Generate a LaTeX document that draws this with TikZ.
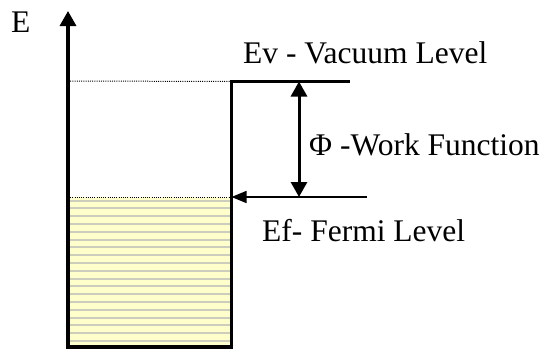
\documentclass[tikz,border=0pt]{standalone}
\usepackage{fontspec}
\setmainfont{Liberation Serif}
\usetikzlibrary{arrows.meta}
\definecolor{fillyel}{RGB}{255,255,204}
\definecolor{stripegray}{RGB}{205,205,190}
\begin{document}
\begin{tikzpicture}[x=1pt,y=-1pt,
  lbl/.style={anchor=base west,inner sep=0pt,font=\fontsize{31.5}{38}\selectfont},
  thick line/.style={line width=3.2pt},
  dotline/.style={line width=1pt,black,dash pattern=on 1pt off 1.2pt},
  stripe/.style={line width=2pt,color=stripegray}]
\useasboundingbox (0,0) rectangle (542,349);
% coordinates
\coordinate (axb) at (68,347);
\coordinate (axt) at (68,11);
\coordinate (wbl) at (66.4,347);
\coordinate (wbr) at (231.5,347);
\coordinate (wtr) at (231.5,81.5);
\coordinate (vac) at (350,81.5);
\coordinate (fl) at (68,197);
\coordinate (fr) at (231.5,197);
\coordinate (vl) at (68,81);
\coordinate (phit) at (299,81.5);
\coordinate (phib) at (299,197);
\coordinate (fs) at (367,197);
% fill
\fill[fillyel] (68,197) rectangle (231.5,347);
\foreach \y in {200.5,208.3,...,346} {\draw[stripe] (69.5,\y) -- (230,\y);}
% dotted levels
\draw[dotline] (vl) -- (wtr);
\draw[dotline] (fl) -- (fr);
% axis
\draw[thick line,-{Triangle[length=15pt,width=16pt]}] (axb) -- (axt);
% well
\draw[thick line,line join=miter] (wbl) -- (wbr) -- (wtr) -- (vac);
% work function arrow
\draw[line width=3pt,{Triangle[length=15pt,width=16pt]}-{Triangle[length=15pt,width=16pt]}] (phit) -- (phib);
% fermi arrow
\draw[line width=1.5pt,-{Triangle[length=15pt,width=12pt]}] (fs) -- (fr);
% labels
\node[lbl] (E) at (11,32) {E};
\node[lbl] (ev) at (243,63) {Ev - Vacuum Level};
\node[lbl] (phi) at (309,155) {Φ -Work Function};
\node[lbl] (ef) at (262,241) {Ef- Fermi Level};
\end{tikzpicture}
\end{document}
